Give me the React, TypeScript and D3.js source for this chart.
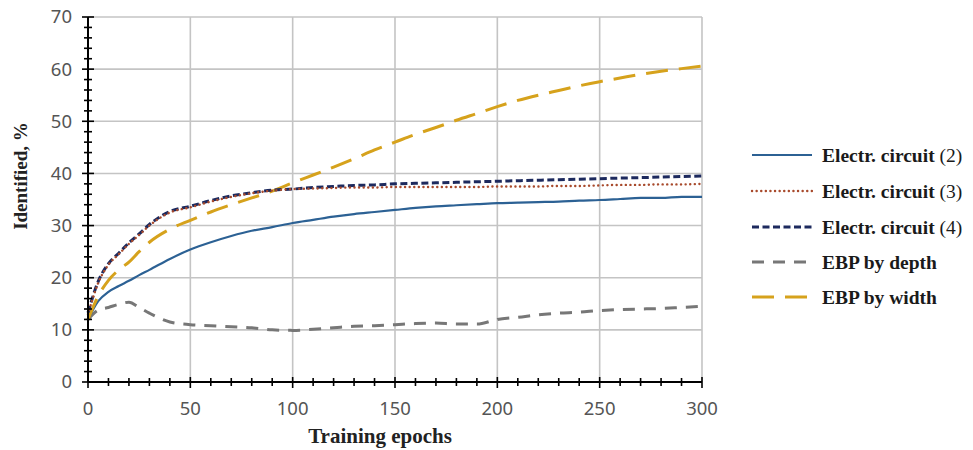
import React from "react";
import * as d3 from "d3";

const epochs = [0, 5, 10, 15, 20, 25, 30, 40, 50, 60, 70, 80, 90, 100, 110, 120, 130, 140, 150, 160, 170, 180, 190, 200, 210, 220, 230, 240, 250, 260, 270, 280, 290, 300];
const circuit2 = [12, 15.5, 17.3, 18.4, 19.4, 20.5, 21.5, 23.6, 25.4, 26.8, 28, 29, 29.7, 30.5, 31.1, 31.7, 32.2, 32.6, 33, 33.4, 33.7, 33.9, 34.1, 34.3, 34.4, 34.5, 34.6, 34.8, 34.9, 35.1, 35.3, 35.3, 35.5, 35.5];
const circuit3 = [13, 19, 22.5, 24.5, 26.5, 28.2, 30, 32.5, 33.5, 34.6, 35.5, 36.2, 36.7, 37, 37.1, 37.2, 37.3, 37.3, 37.4, 37.4, 37.4, 37.4, 37.4, 37.5, 37.5, 37.5, 37.6, 37.6, 37.7, 37.8, 37.8, 37.9, 37.9, 38];
const circuit4 = [13.3, 19.3, 22.7, 24.7, 26.7, 28.4, 30.2, 32.7, 33.7, 34.8, 35.7, 36.3, 36.8, 37, 37.3, 37.5, 37.7, 37.8, 38, 38.1, 38.2, 38.3, 38.4, 38.5, 38.6, 38.7, 38.8, 38.9, 39, 39.1, 39.2, 39.3, 39.4, 39.5];
const ebpDepth = [12, 13.8, 14.3, 14.9, 15.3, 14.3, 13.2, 11.5, 11, 10.8, 10.6, 10.4, 10, 9.9, 10.1, 10.4, 10.7, 10.8, 11, 11.2, 11.3, 11.1, 11.1, 12, 12.4, 12.9, 13.2, 13.4, 13.7, 13.9, 14, 14.1, 14.3, 14.5];
const ebpWidth = [12, 16.5, 19.5, 21.5, 23, 25, 26.8, 29.3, 31, 32.6, 34, 35.3, 36.6, 38.2, 39.7, 41.2, 42.8, 44.5, 46, 47.5, 48.8, 50.2, 51.5, 52.8, 54, 55, 55.9, 56.8, 57.6, 58.3, 59, 59.6, 60.1, 60.6];

const xTicks = [0, 50, 100, 150, 200, 250, 300];
const yTicks = [0, 10, 20, 30, 40, 50, 60, 70];
const seriesNames = ["Electr. circuit", "Electr. circuit", "Electr. circuit", "EBP by depth", "EBP by width"];
const seriesSuffix = ["(2)", "(3)", "(4)", "", ""];

const styles = [
  { color: "#2c6194", width: 2.2, dash: "", cap: "butt" },
  { color: "#a84a2c", width: 2.4, dash: "0.1 4.5", cap: "round" },
  { color: "#1d2a5e", width: 3, dash: "7 3.5", cap: "butt" },
  { color: "#777777", width: 3, dash: "12 9", cap: "butt" },
  { color: "#d6a21c", width: 3, dash: "22 11", cap: "butt" },
];

export default function App() {
  const W = 973, H = 450;
  const x = d3.scaleLinear().domain([0, 300]).range([88, 702]);
  const y = d3.scaleLinear().domain([0, 70]).range([382, 17]);
  const all = [circuit2, circuit3, circuit4, ebpDepth, ebpWidth];
  const drawOrder = [3, 0, 4, 2, 1];
  const line = (vals: number[]) =>
    d3.line<number>().x((_, i) => x(epochs[i])).y((v) => y(v)).curve(d3.curveMonotoneX)(vals) || "";

  const minorY = d3.range(0, 71, 2);
  const minorX = d3.range(0, 301, 10);
  const legendY = [155, 191, 227, 262, 297];

  return (
    <svg width={W} height={H} style={{ position: "absolute", left: 0, top: 0, background: "#fff" }}>
      {xTicks.map((t) => (
        <line key={"gx" + t} x1={x(t)} x2={x(t)} y1={y(0)} y2={y(70)} stroke="#c4c4c4" strokeWidth={1.6} />
      ))}
      {yTicks.map((t) => (
        <line key={"gy" + t} x1={x(0)} x2={x(300)} y1={y(t)} y2={y(t)} stroke="#c4c4c4" strokeWidth={1.6} />
      ))}
      {drawOrder.map((k) => (
        <path key={"s" + k} d={line(all[k])} fill="none" stroke={styles[k].color} strokeWidth={styles[k].width}
          strokeDasharray={styles[k].dash || undefined} strokeLinecap={styles[k].cap as any} />
      ))}
      <line x1={x(0)} x2={x(0)} y1={y(0)} y2={y(70)} stroke="#000" strokeWidth={2} />
      <line x1={x(0)} x2={x(300)} y1={y(0)} y2={y(0)} stroke="#000" strokeWidth={2} />
      {minorY.map((t) => {
        const big = t % 10 === 0;
        return <line key={"ty" + t} x1={x(0) - (big ? 6 : 4)} x2={x(0) + (big ? 6 : 4)} y1={y(t)} y2={y(t)} stroke="#000" strokeWidth={1.6} />;
      })}
      {minorX.map((t) => {
        const big = t % 50 === 0;
        return <line key={"tx" + t} x1={x(t)} x2={x(t)} y1={y(0) - (big ? 5 : 4)} y2={y(0) + (big ? 6 : 4)} stroke="#000" strokeWidth={1.6} />;
      })}
      {yTicks.map((t) => (
        <text key={"ly" + t} x={72} y={y(t)} dy="0.35em" textAnchor="end" fontFamily="'Noto Sans', sans-serif" fontSize={18.5} fill="#555">{t}</text>
      ))}
      {xTicks.map((t) => (
        <text key={"lx" + t} x={x(t)} y={409} dy="0.35em" textAnchor="middle" fontFamily="'Noto Sans', sans-serif" fontSize={18.5} fill="#555">{t}</text>
      ))}
      <text x={380} y={443} textAnchor="middle" fontFamily="'Liberation Serif', serif" fontWeight="bold" fontSize={21} fill="#222">Training epochs</text>
      <text transform="translate(27,176) rotate(-90)" textAnchor="middle" fontFamily="'Liberation Serif', serif" fontWeight="bold" fontSize={19} fill="#222">Identified, %</text>
      {styles.map((s, k) => (
        <g key={"lg" + k}>
          <line x1={752} x2={812} y1={legendY[k]} y2={legendY[k]} stroke={s.color} strokeWidth={s.width}
            strokeDasharray={s.dash || undefined} strokeLinecap={s.cap as any} />
          <text x={822} y={legendY[k]} dy="0.35em" fontFamily="'Liberation Serif', serif" fontWeight="bold" fontSize={19.5} fill="#1a1a1a">
            {seriesNames[k]}{seriesSuffix[k] ? <tspan fontWeight="normal">{" " + seriesSuffix[k]}</tspan> : null}
          </text>
        </g>
      ))}
    </svg>
  );
}
